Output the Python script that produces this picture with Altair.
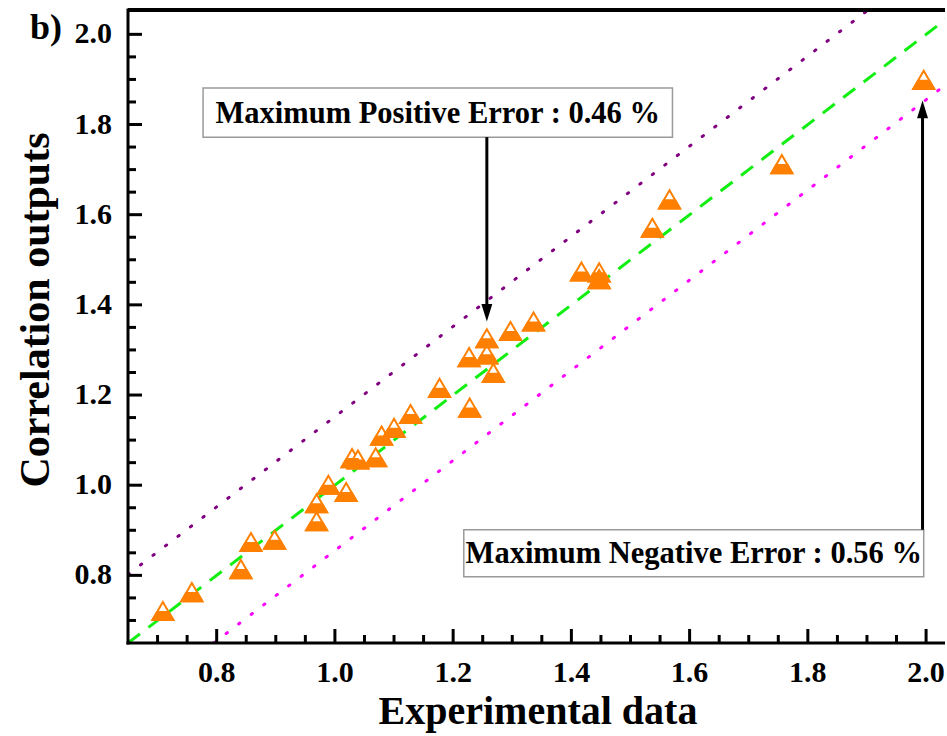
import altair as alt
import pandas as pd

# ---- data ----
exp_data = [0.709, 0.758, 0.841, 0.858, 0.898, 0.969, 0.969, 0.989, 1.019, 1.029,
            1.039, 1.069, 1.079, 1.100, 1.128, 1.177, 1.228, 1.227, 1.257, 1.268,
            1.257, 1.297, 1.336, 1.417, 1.447, 1.447, 1.537, 1.566, 1.756, 1.996]
corr_out = [0.721, 0.763, 0.814, 0.874, 0.879, 0.920, 0.960, 1.001, 0.985, 1.060,
            1.057, 1.062, 1.110, 1.127, 1.158, 1.216, 1.172, 1.284, 1.290, 1.249,
            1.326, 1.342, 1.363, 1.474, 1.472, 1.457, 1.571, 1.634, 1.712, 1.899]

ideal_x = [0.65, 2.06]
ideal_y = [0.65, 2.06]
upper_x = [0.65, 1.91]
upper_y = [0.802, 2.062]
lower_x = [0.795, 2.05]
lower_y = [0.65, 1.905]

x_major = [0.8, 1.0, 1.2, 1.4, 1.6, 1.8, 2.0]
y_major = [0.8, 1.0, 1.2, 1.4, 1.6, 1.8, 2.0]
x_minor = [0.7, 0.75, 0.85, 0.9, 0.95, 1.05, 1.1, 1.15, 1.25, 1.3, 1.35, 1.45, 1.5,
           1.55, 1.65, 1.7, 1.75, 1.85, 1.9, 1.95]
y_minor = [0.7, 0.75, 0.85, 0.9, 0.95, 1.05, 1.1, 1.15, 1.25, 1.3, 1.35, 1.45, 1.5,
           1.55, 1.65, 1.7, 1.75, 1.85, 1.9, 1.95]

x_title = "Experimental data"
y_title = "Correlation outputs"
panel_text = "b)"

box_labels = ["Maximum Positive Error : 0.46 %", "Maximum Negative Error : 0.56 %"]
box_left = [0.777, 1.218]
box_right = [1.571, 1.996]
box_bottom = [1.772, 0.797]
box_top = [1.881, 0.901]
arrow_x = [1.257, 1.994]
arrow_from = [1.772, 0.901]
arrow_to = [1.363, 1.853]
arrow_dir = ["down", "up"]

X_DOMAIN = [0.65, 2.032]
Y_DOMAIN = [0.65, 2.054]
W, H = 817, 633
FONT = "Liberation Serif"
ORANGE = "#ff8000"

xs = alt.Scale(domain=X_DOMAIN, nice=False, zero=False)
ys = alt.Scale(domain=Y_DOMAIN, nice=False, zero=False)


def X(field):
    return alt.X(field, scale=xs, axis=None)


def Y(field):
    return alt.Y(field, scale=ys, axis=None)


pts = pd.DataFrame({"exp": exp_data, "corr": corr_out})


def line_df(xv, yv):
    return pd.DataFrame({"x": xv, "y": yv})


def line_layer(df, color, dash, cap):
    return alt.Chart(df).mark_line(clip=True, color=color, strokeWidth=3,
                                   strokeDash=dash, strokeCap=cap).encode(
        x=X("x:Q"), y=Y("y:Q"))


ideal = line_layer(line_df(ideal_x, ideal_y), "#11ee11", [15, 10.7], "butt")
upper = line_layer(line_df(upper_x, upper_y), "#800080", [1.5, 14.2], "round")
lower = line_layer(line_df(lower_x, lower_y), "#ff00ff", [1.5, 14.2], "round")

TRI = "M0,-0.866L1,0.866L-1,0.866Z"
TRAP = "M-1,0.866L1,0.866L0.55,0.087L-0.55,0.087Z"

tri = alt.Chart(pts).mark_point(shape=TRI, size=440, filled=True, fill="white",
                                stroke=ORANGE, strokeWidth=2, opacity=1).encode(
    x=X("exp:Q"), y=Y("corr:Q"))
trap = alt.Chart(pts).mark_point(shape=TRAP, size=440, filled=True, fill=ORANGE,
                                 stroke=ORANGE, strokeWidth=2, opacity=1).encode(
    x=X("exp:Q"), y=Y("corr:Q"))

# ---- hand-built axes: inward ticks, frame lines, tick labels, titles ----
ytick_major = alt.Chart(pd.DataFrame({"v": y_major})).mark_rule(color="black", strokeWidth=3).encode(
    y=Y("v:Q"), x=alt.value(0), x2=alt.value(14))
ytick_minor = alt.Chart(pd.DataFrame({"v": y_minor})).mark_rule(color="black", strokeWidth=3).encode(
    y=Y("v:Q"), x=alt.value(0), x2=alt.value(8))
xtick_major = alt.Chart(pd.DataFrame({"v": x_major})).mark_rule(color="black", strokeWidth=3).encode(
    x=X("v:Q"), y=alt.value(H), y2=alt.value(H - 14))
xtick_minor = alt.Chart(pd.DataFrame({"v": x_minor})).mark_rule(color="black", strokeWidth=3).encode(
    x=X("v:Q"), y=alt.value(H), y2=alt.value(H - 8))

one = pd.DataFrame({"v": [0]})
top_line = alt.Chart(one).mark_rule(color="black", strokeWidth=4).encode(
    x=alt.value(0), x2=alt.value(W), y=alt.value(0))
left_line = alt.Chart(one).mark_rule(color="black", strokeWidth=3).encode(
    x=alt.value(0), y=alt.value(-1.5), y2=alt.value(H + 1.5))
bottom_line = alt.Chart(one).mark_rule(color="black", strokeWidth=3).encode(
    y=alt.value(H), x=alt.value(-1.5), x2=alt.value(W))

xlabels = alt.Chart(pd.DataFrame({"v": x_major})).mark_text(
    font=FONT, fontSize=30, fontWeight="bold", color="black", align="center",
    baseline="top").encode(x=X("v:Q"), y=alt.value(H + 15), text=alt.Text("v:Q", format=".1f"))
ylabels = alt.Chart(pd.DataFrame({"v": y_major})).mark_text(
    font=FONT, fontSize=30, fontWeight="bold", color="black", align="right",
    baseline="middle").encode(y=Y("v:Q"), x=alt.value(-16), text=alt.Text("v:Q", format=".1f"))

xtitle = alt.Chart(pd.DataFrame({"t": [x_title]})).mark_text(
    font=FONT, fontSize=40, fontWeight="bold", color="black", align="center",
    baseline="alphabetic").encode(x=alt.value(410), y=alt.value(H + 81), text="t:N")
ytitle = alt.Chart(pd.DataFrame({"t": [y_title]})).mark_text(
    font=FONT, fontSize=42, fontWeight="bold", color="black", align="center",
    baseline="middle", angle=270).encode(x=alt.value(-92), y=alt.value(300), text="t:N")

ann = pd.DataFrame({
    "label": box_labels,
    "x1": box_left, "x2": box_right, "y1": box_bottom, "y2": box_top,
    "tx": [(a + b) / 2 for a, b in zip(box_left, box_right)],
    "ty": [(a + b) / 2 for a, b in zip(box_bottom, box_top)],
    "ax": arrow_x, "af": arrow_from, "at": arrow_to,
    "shaft_end": [t + 0.03 if d == "down" else t - 0.03 for t, d in zip(arrow_to, arrow_dir)],
    "dir": arrow_dir,
})

boxes = alt.Chart(ann).mark_rect(fill="white", stroke="#9a9a9a", strokeWidth=1.5).encode(
    x=X("x1:Q"), x2="x2:Q", y=Y("y1:Q"), y2="y2:Q")
box_text = alt.Chart(ann).mark_text(font=FONT, fontSize=30.5, fontWeight="bold", color="black",
                                    align="center", baseline="middle", dy=1).encode(
    x=X("tx:Q"), y=Y("ty:Q"), text="label:N")
shafts = alt.Chart(ann).mark_rule(color="black", strokeWidth=3).encode(
    x=X("ax:Q"), y=Y("af:Q"), y2="shaft_end:Q")
DOWN = "M0,0L-1,-3.2L1,-3.2Z"
UP = "M0,0L-1,3.2L1,3.2Z"
heads = alt.Chart(ann).mark_point(filled=True, size=120, color="black", opacity=1).encode(
    x=X("ax:Q"), y=Y("at:Q"),
    shape=alt.Shape("dir:N", scale=alt.Scale(domain=["down", "up"], range=[DOWN, UP]), legend=None))

panel_label = alt.Chart(pd.DataFrame({"t": [panel_text]})).mark_text(
    font=FONT, fontSize=36, fontWeight="bold", color="black", align="center",
    baseline="alphabetic").encode(x=alt.value(-82), y=alt.value(29), text="t:N")

chart = alt.layer(
    ideal, upper, lower, tri, trap,
    ytick_major, ytick_minor, xtick_major, xtick_minor,
    top_line, left_line, bottom_line,
    xlabels, ylabels, xtitle, ytitle,
    boxes, box_text, shafts, heads, panel_label,
).properties(
    width=W, height=H,
    autosize=alt.AutoSizeParams(type="none"),
    padding={"left": 128, "top": 10, "right": 2, "bottom": 93},
    background="white",
).configure_view(stroke=None)

chart.save("out.html", embed_options={"renderer": "svg", "actions": False})
